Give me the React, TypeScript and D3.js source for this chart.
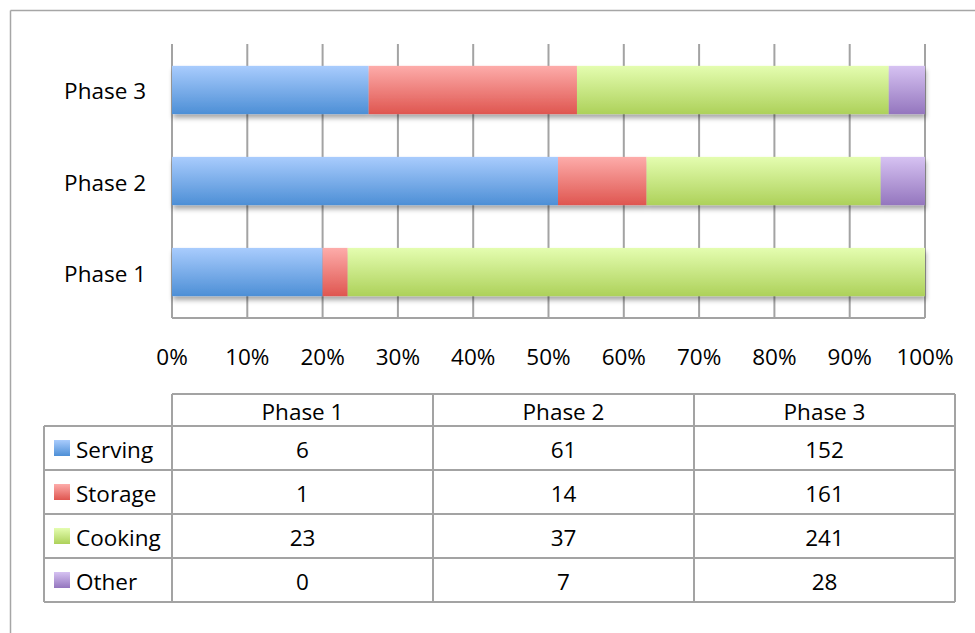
import React from 'react';
import * as d3 from 'd3';

const width = 975;
const height = 633;

const phases = ['Phase 1', 'Phase 2', 'Phase 3'];
const seriesNames = ['Serving', 'Storage', 'Cooking', 'Other'];
const serving = [6, 61, 152];
const storage = [1, 14, 161];
const cooking = [23, 37, 241];
const other = [0, 7, 28];
const ticks = [0, 0.1, 0.2, 0.3, 0.4, 0.5, 0.6, 0.7, 0.8, 0.9, 1];

const colorTop = ['#a9ccfd', '#fdacaa', '#e4fdb0', '#d6c2f2'];
const colorBottom = ['#4d8fd6', '#df5650', '#add15a', '#9476be'];

const font = '"Open Sans", Lato, sans-serif';
const fontSize = 22.5;
const gridColor = '#a3a3a3';

const plot = { left: 172, right: 925, top: 44, bottom: 318 };
const table = { left: 44, first: 172, right: 955, top: 394, header: 32, row: 44 };

const values = [serving, storage, cooking, other];

export const App = () => {
    const x = d3.scaleLinear().domain([0, 1]).range([plot.left, plot.right]);
    const y = d3.scaleBand<string>()
        .domain([...phases].reverse())
        .range([plot.top, plot.bottom])
        .paddingInner(0.47)
        .paddingOuter(0.24);

    const rows = phases.map((p, i) => {
        const r: any = { phase: p };
        seriesNames.forEach((s, k) => { r[s] = values[k][i]; });
        return r;
    });
    const stack = d3.stack<any>().keys(seriesNames).offset(d3.stackOffsetExpand);
    const stacked = stack(rows);

    const colX = d3.scaleBand<string>().domain(phases).range([table.first, table.right]);
    const rowTop = (k: number) => table.top + table.header + k * table.row;
    const tableBottom = rowTop(seriesNames.length);

    return (
        <svg width={width} height={height}
            style={{ position: 'absolute', left: 0, top: 0, background: '#fff' }}
            fontFamily={font}>
            <defs>
                {seriesNames.map((s, k) => (
                    <linearGradient key={s} id={`g${k}`} x1="0" y1="0" x2="0" y2="1">
                        <stop offset="0" stopColor={colorTop[k]} />
                        <stop offset="1" stopColor={colorBottom[k]} />
                    </linearGradient>
                ))}
                <filter id="shadow" x="-5%" y="-20%" width="110%" height="160%">
                    <feGaussianBlur in="SourceAlpha" stdDeviation="2.5" />
                    <feOffset dx="1" dy="4" result="b" />
                    <feComponentTransfer>
                        <feFuncA type="linear" slope="0.35" />
                    </feComponentTransfer>
                    <feMerge>
                        <feMergeNode />
                        <feMergeNode in="SourceGraphic" />
                    </feMerge>
                </filter>
            </defs>

            {/* outer frame */}
            <line x1={10.5} x2={width} y1={10.5} y2={10.5} stroke="#a6a6a6" strokeWidth={1.5} />
            <line x1={10.5} x2={10.5} y1={10.5} y2={height} stroke="#a6a6a6" strokeWidth={1.5} />

            {/* grid */}
            {ticks.map(t => (
                <line key={t} x1={x(t)} x2={x(t)} y1={plot.top} y2={plot.bottom}
                    stroke={gridColor} strokeWidth={2} />
            ))}
            <line x1={plot.left} x2={plot.right} y1={plot.bottom} y2={plot.bottom}
                stroke={gridColor} strokeWidth={2} />

            {/* bars */}
            <g filter="url(#shadow)">
                {stacked.map((layer, k) => layer.map((d, i) => (
                    <rect key={`${k}-${i}`}
                        x={x(d[0])}
                        y={y(phases[i])}
                        width={Math.max(0, x(d[1]) - x(d[0]))}
                        height={y.bandwidth()}
                        fill={`url(#g${k})`} />
                )))}
            </g>

            {/* category labels */}
            {phases.map(p => (
                <text key={p} x={146} y={(y(p) ?? 0) + y.bandwidth() / 2 + 1}
                    textAnchor="end" dominantBaseline="central" fontSize={fontSize} fill="#000">{p}</text>
            ))}

            {/* tick labels */}
            {ticks.map(t => (
                <text key={t} x={x(t)} y={356} textAnchor="middle" dominantBaseline="central"
                    fontSize={fontSize} fill="#000">{d3.format('.0%')(t)}</text>
            ))}

            {/* data table */}
            <g stroke={gridColor} strokeWidth={2} fill="none">
                <line x1={table.first} x2={table.right} y1={table.top} y2={table.top} />
                {seriesNames.map((s, k) => (
                    <line key={s} x1={table.left} x2={table.right} y1={rowTop(k)} y2={rowTop(k)} />
                ))}
                <line x1={table.left} x2={table.right} y1={tableBottom} y2={tableBottom} />
                <line x1={table.left} x2={table.left} y1={rowTop(0)} y2={tableBottom} />
                {phases.map(p => (
                    <line key={p} x1={colX(p)} x2={colX(p)} y1={table.top} y2={tableBottom} />
                ))}
                <line x1={table.right} x2={table.right} y1={table.top} y2={tableBottom} />
            </g>
            {phases.map(p => (
                <text key={p} x={(colX(p) ?? 0) + colX.bandwidth() / 2} y={table.top + table.header / 2 + 1}
                    textAnchor="middle" dominantBaseline="central" fontSize={fontSize} fill="#000">{p}</text>
            ))}
            {seriesNames.map((s, k) => (
                <g key={s}>
                    <rect x={54} y={rowTop(k) + table.row / 2 - 8} width={16} height={16} fill={`url(#g${k})`} />
                    <text x={76} y={rowTop(k) + table.row / 2 + 1} dominantBaseline="central"
                        fontSize={fontSize} fill="#000">{s}</text>
                    {phases.map((p, i) => (
                        <text key={p} x={(colX(p) ?? 0) + colX.bandwidth() / 2} y={rowTop(k) + table.row / 2 + 1}
                            textAnchor="middle" dominantBaseline="central" fontSize={fontSize} fill="#000">
                            {values[k][i]}
                        </text>
                    ))}
                </g>
            ))}
        </svg>
    );
};

export default App;
